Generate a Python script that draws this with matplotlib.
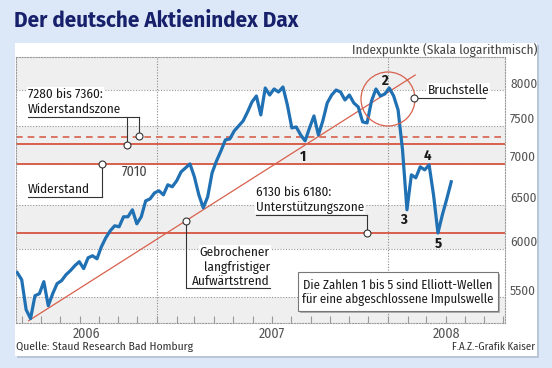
import matplotlib
matplotlib.use('Agg')
import matplotlib.pyplot as plt
import matplotlib.dates as mdates
from matplotlib.ticker import NullLocator
from matplotlib.patches import Rectangle, Circle
from matplotlib import font_manager
import pandas as pd

W, H = 552, 368

# ---------------- data ----------------
start_date = '2006-05-25'          # weekly closes from this date
dax = [5747, 5674, 5374, 5288, 5512, 5532, 5654, 5413, 5532, 5634,
       5664, 5725, 5768, 5820, 5862, 5789, 5904, 5925, 5893, 6023,
       6122, 6200, 6256, 6245, 6359, 6359, 6440, 6278, 6359, 6545,
       6569, 6640, 6665, 6617, 6738, 6714, 6787, 6898, 6948, 6998,
       6836, 6617, 6463, 6593, 6886, 7036, 7165, 7309, 7322, 7429,
       7496, 7564, 7688, 7828, 7914, 7647, 8029, 7928, 8015, 7971,
       8044, 7786, 7470, 7482, 7375, 7296, 7469, 7633, 7375, 7564,
       7815, 7928, 8000, 7971, 7857, 7928, 7815, 7759, 7551, 7537,
       7843, 8015, 7914, 7943, 8029, 7914, 7716, 7178, 6440, 6861,
       6824, 6961, 6923, 6986, 6617, 6175, 6382, 6569, 6775]
trend_dates = ['2006-06-12', '2008-02-13']
trend_values = [5268, 8220]
resistance_zone = [7260, 7350]
resistance = 7000
support = 6170
y_ticks = [5500, 6000, 6500, 7000, 7500, 8000]
year_labels = ['2006', '2007', '2008']
year_label_dates = ['2006-09-11', '2007-07-02', '2008-04-02']
year_bounds = ['2007-01-01', '2008-01-01']
x_range = ['2006-05-23', '2008-07-04']
y_range = [5246, 8493]
wave_labels = ['1', '2', '3', '4', '5']

# ---------------- fonts / colours ----------------
names = {f.name for f in font_manager.fontManager.ttflist}


def pick(*fams):
    for f in fams:
        if f in names:
            return f
    return 'DejaVu Sans'


COND = pick('Fira Sans Condensed', 'Roboto Condensed', 'Asap Condensed', 'Roboto')
TITLE_FONT = pick('Fira Sans', 'Lato', 'Roboto')
BLUE = '#2070b4'
RED = '#d8604c'
GRID = '#9a9a9a'
BAND = '#efefef'
INK = '#1a1a1a'

fig = plt.figure(figsize=(W / 100, H / 100), dpi=100)
fig.patch.set_facecolor('#dce7f8')

# background panel
bg = fig.add_axes([0, 0, 1, 1], zorder=-2)
bg.set_xlim(0, W); bg.set_ylim(H, 0); bg.axis('off')
bg.add_patch(Rectangle((17, 45), 522, 313, facecolor='#b9c5d8', edgecolor='none'))
bg.add_patch(Rectangle((15, 43), 522, 313, facecolor='white', edgecolor='none'))
bg.text(14, 21, 'Der deutsche Aktienindex Dax', fontsize=15, fontweight='bold',
        family=TITLE_FONT, color='#17206a', va='center', ha='left')
bg.text(537, 50, 'Indexpunkte (Skala logarithmisch)', fontsize=9.5, family=COND,
        color='#444', va='center', ha='right')
bg.text(16, 347, 'Quelle: Staud Research Bad Homburg', fontsize=8.3, family=COND,
        color='#333', va='center', ha='left')
bg.text(535, 347, 'F.A.Z.-Grafik Kaiser', fontsize=7.8, family=COND,
        color='#333', va='center', ha='right')

# ---------------- main axes ----------------
ax = fig.add_axes([16 / W, 1 - 323 / H, 489 / W, 266 / H])
ax.set_yscale('log')
ax.set_ylim(*y_range)
ax.set_xlim(pd.Timestamp(x_range[0]), pd.Timestamp(x_range[1]))
ax.set_facecolor('white')

bands = [(8000, 9000), (7000, 7500), (6000, 6500), (5000, 5500)]
for lo, hi in bands:
    ax.axhspan(lo, hi, color=BAND, lw=0, zorder=0)
for v in y_ticks:
    ax.axhline(v, color=GRID, lw=0.8, ls=(0, (1, 1.5)), zorder=1)
for d in year_bounds:
    ax.axvline(pd.Timestamp(d), color='#8a8a8a', lw=0.8, ls=(0, (1, 1.5)), zorder=1)
for s in ax.spines.values():
    s.set_linestyle((0, (1, 1.5)))
    s.set_color(GRID)
    s.set_linewidth(0.8)

ax.yaxis.set_major_locator(NullLocator())
ax.yaxis.set_minor_locator(NullLocator())
ax.xaxis.set_minor_locator(mdates.MonthLocator())
ax.set_xticks([pd.Timestamp(d) for d in year_label_dates])
ax.set_xticklabels(year_labels, family=COND, fontsize=10, color='#555')
ax.tick_params(axis='x', which='major', length=0, pad=3)
ax.tick_params(axis='x', which='minor', direction='in', length=5, width=0.8, color='#999')

# horizontal levels and trend line
ax.axhline(resistance_zone[0], color=RED, lw=1.4, zorder=2)
ax.axhline(resistance_zone[1], color=RED, lw=1.2, ls=(0, (4, 3)), zorder=2)
ax.axhline(resistance, color=RED, lw=1.4, zorder=2)
ax.axhline(support, color=RED, lw=1.4, zorder=2)
ax.plot(pd.to_datetime(trend_dates), trend_values, color=RED, lw=0.9, zorder=2)

# DAX line
dates = pd.date_range(start_date, periods=len(dax), freq='7D')
ax.plot(dates, dax, color=BLUE, lw=2.3, zorder=4, solid_joinstyle='round')

for v in y_ticks:
    ax.annotate(f'{v}', xy=(1, v), xycoords=('axes fraction', 'data'),
                xytext=(5, 6), textcoords='offset pixels', ha='left', va='center',
                fontsize=9.5, color='#555', family=COND, annotation_clip=False)

# ---------------- annotations (pixel overlay) ----------------
ov = fig.add_axes([0, 0, 1, 1], zorder=5)
ov.set_xlim(0, W); ov.set_ylim(H, 0); ov.axis('off')


def conn(xs, ys):
    ov.plot(xs, ys, color='#333', lw=0.8, zorder=2)


def dot(x, y):
    ov.plot([x], [y], 'o', ms=5, mfc='white', mec='#333', mew=0.8, zorder=3)


def label(x, y, s, ha='left', **kw):
    ov.text(x, y, s, ha=ha, va='center', family=COND, fontsize=9.5, color=INK,
            bbox=dict(facecolor='white', edgecolor='none', pad=0.6), zorder=1, **kw)


# Widerstandszone
label(28, 94, '7280 bis 7360:')
label(28, 109, 'Widerstandszone')
conn([28, 139], [117, 117])
conn([127, 127], [117, 145]); dot(127, 145)
conn([139, 139], [117, 136]); dot(139, 136)

# Widerstand
ov.text(135, 172, '7010', ha='center', va='center', family=COND, fontsize=10, color='#444')
label(28, 189, 'Widerstand')
conn([28, 102], [197, 197])
conn([102, 102], [197, 164]); dot(102, 164)

# Unterstuetzungszone
label(256, 192, '6130 bis 6180:')
label(256, 207, 'Unterstützungszone')
conn([256, 367], [215, 215])
conn([367, 367], [215, 233]); dot(367, 233)

# Gebrochener Aufwaertstrend
label(270, 252, 'Gebrochener', ha='right')
label(270, 267, 'langfristiger', ha='right')
label(270, 281, 'Aufwärtstrend', ha='right')
conn([186, 186, 270], [221, 288, 288]); dot(186, 221)

# Bruchstelle
ov.add_patch(Circle((388, 99), 27, fill=False, edgecolor=RED, lw=0.9, zorder=2))
label(428, 90, 'Bruchstelle')
conn([414, 485], [98, 98]); dot(414, 98)

# Elliott wave numbers
for s, (x, y) in zip(wave_labels,
                     [(303, 157), (384, 81), (404, 220), (427, 156), (438, 244)]):
    ov.text(x, y, s, ha='center', va='center', family=COND, fontsize=10.5,
            fontweight='bold', color=INK, zorder=4)

# legend box
ov.add_patch(Rectangle((300, 274), 200, 39, facecolor='#b0b0b0', edgecolor='none', zorder=1))
ov.add_patch(Rectangle((298, 272), 200, 39, facecolor='white', edgecolor='#777', lw=0.8, zorder=2))
ov.text(398, 285, 'Die Zahlen 1 bis 5 sind Elliott-Wellen', ha='center', va='center',
        family=COND, fontsize=9.1, color=INK, zorder=3)
ov.text(398, 300, 'für eine abgeschlossene Impulswelle', ha='center', va='center',
        family=COND, fontsize=9.1, color=INK, zorder=3)

fig.savefig('out.png', dpi=100, facecolor=fig.get_facecolor())
